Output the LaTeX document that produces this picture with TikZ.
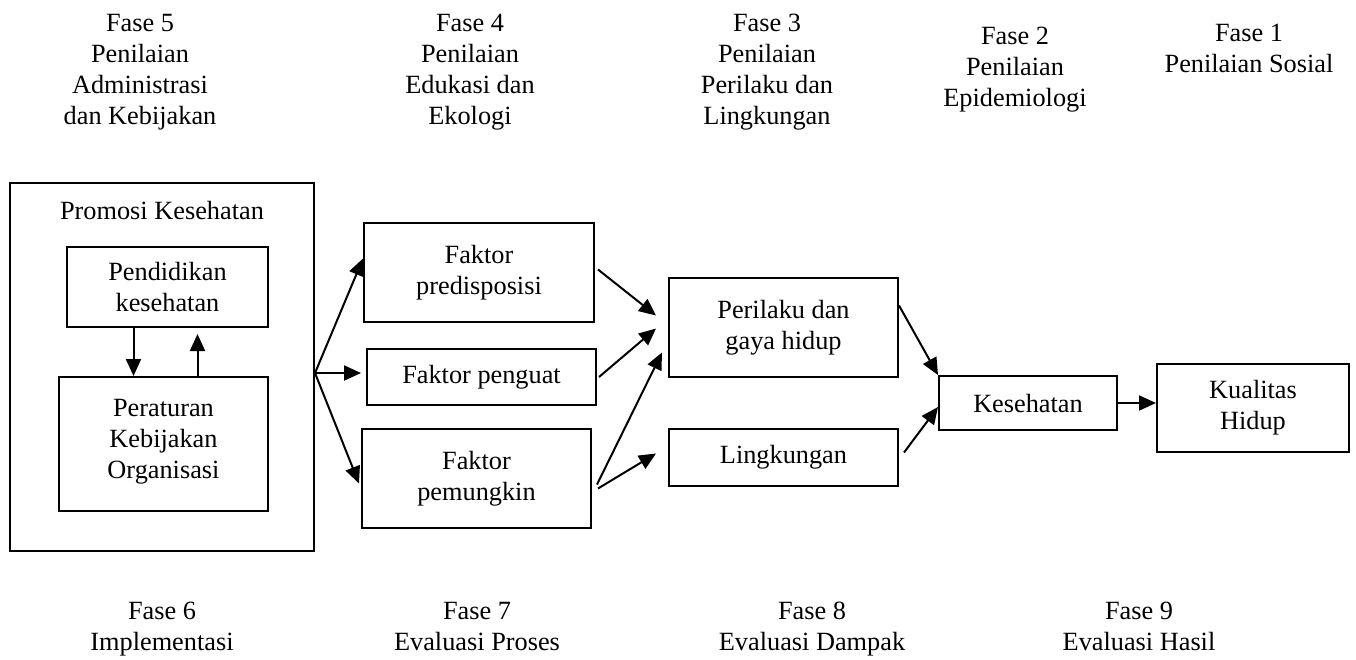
\documentclass[tikz,border=0pt]{standalone}
\usepackage{fontspec}
\setmainfont{Liberation Serif}
\usetikzlibrary{arrows.meta}
\tikzset{
	box/.style 2 args={draw,line width=2pt,align=center,inner sep=0pt,minimum width=#1,minimum height=#2},
	arr/.style={line width=2pt,-{Triangle[length=17pt,width=15pt]}},
	fase/.style={align=center,anchor=north,inner sep=0pt}
}

\begin{document}
\begin{tikzpicture}[x=1pt,y=-1pt,font=\fontsize{26.3}{31}\selectfont]
	\useasboundingbox (0,0) rectangle (1356,659);

	% fase di atas
	\node [fase] (fase5) at (140,14.2) {Fase 5\\Penilaian\\Administrasi\\dan Kebijakan};
	\node [fase] (fase4) at (470,14.2) {Fase 4\\Penilaian\\Edukasi dan\\Ekologi};
	\node [fase] (fase3) at (767,14.2) {Fase 3\\Penilaian\\Perilaku dan\\Lingkungan};
	\node [fase] (fase2) at (1015,27.2) {Fase 2\\Penilaian\\Epidemiologi};
	\node [fase] (fase1) at (1249,24.2) {Fase 1\\Penilaian Sosial};

	% kotak
	\node [box={304pt}{368pt}] (promosi) at (162,367) {};
	\node [anchor=base] (judul) at (162,219) {Promosi Kesehatan};
	\node [box={201pt}{80pt}] (pendidikan) at (167.5,287) {Pendidikan\\kesehatan};
	\node [box={209pt}{134pt}] (peraturan) at (163.5,444) {Peraturan\\Kebijakan\\Organisasi\\[-21pt]};
	\node [box={230pt}{99pt}] (predis) at (479,272.5) {Faktor\\predisposisi};
	\node [box={229pt}{56pt}] (penguat) at (481.5,377) {Faktor penguat};
	\node [box={229pt}{99pt}] (pemungkin) at (476.5,478.5) {Faktor\\pemungkin};
	\node [box={229pt}{99pt}] (perilaku) at (783.5,327.5) {Perilaku dan\\gaya hidup};
	\node [box={229pt}{57pt}] (lingkungan) at (783.5,457.5) {Lingkungan};
	\node [box={178pt}{54pt}] (kesehatan) at (1028,403) {Kesehatan};
	\node [box={192pt}{88pt}] (kualitas) at (1253,408) {Kualitas\\Hidup};

	% panah
	\draw [arr] ([xshift=-34pt]pendidikan.south) -- ([xshift=-34pt]pendidikan.south |- peraturan.north);
	\draw [arr] ([xshift=34pt]peraturan.north) -- ([xshift=30pt,yshift=-6pt]pendidikan.south);

	\coordinate (cabang) at ([yshift=-6pt]promosi.east);
	\draw [arr] (cabang) -- ([yshift=14pt]predis.west);
	\draw [arr] (cabang) -- ([xshift=-5pt]cabang -| penguat.west);
	\draw [arr] (cabang) -- ([xshift=-2pt,yshift=-5pt]pemungkin.west);

	\draw [arr] ([xshift=3pt,yshift=3pt]predis.east) -- ([xshift=-12pt,yshift=12pt]perilaku.west);
	\draw [arr] ([xshift=2pt]penguat.east) -- ([xshift=-12pt,yshift=-1pt]perilaku.west);
	\draw [arr] ([xshift=5pt,yshift=-6pt]pemungkin.east) -- ([xshift=-6pt,yshift=-25pt]perilaku.west);
	\draw [arr] ([xshift=6pt,yshift=-10pt]pemungkin.east) -- ([xshift=-12pt,yshift=4pt]lingkungan.west);

	\draw [arr] ([yshift=22pt]perilaku.east) -- (kesehatan.north west);
	\draw [arr] ([xshift=5pt,yshift=5pt]lingkungan.east) -- ([yshift=-4pt]kesehatan.west);
	\draw [arr] (kesehatan.east) -- (kesehatan.east -| kualitas.west);

	% fase di bawah
	\node [fase] (fase6) at (162,602.2) {Fase 6\\Implementasi};
	\node [fase] (fase7) at (477,602.2) {Fase 7\\Evaluasi Proses};
	\node [fase] (fase8) at (812,602.2) {Fase 8\\Evaluasi Dampak};
	\node [fase] (fase9) at (1139,602.2) {Fase 9\\Evaluasi Hasil};
\end{tikzpicture}
\end{document}
